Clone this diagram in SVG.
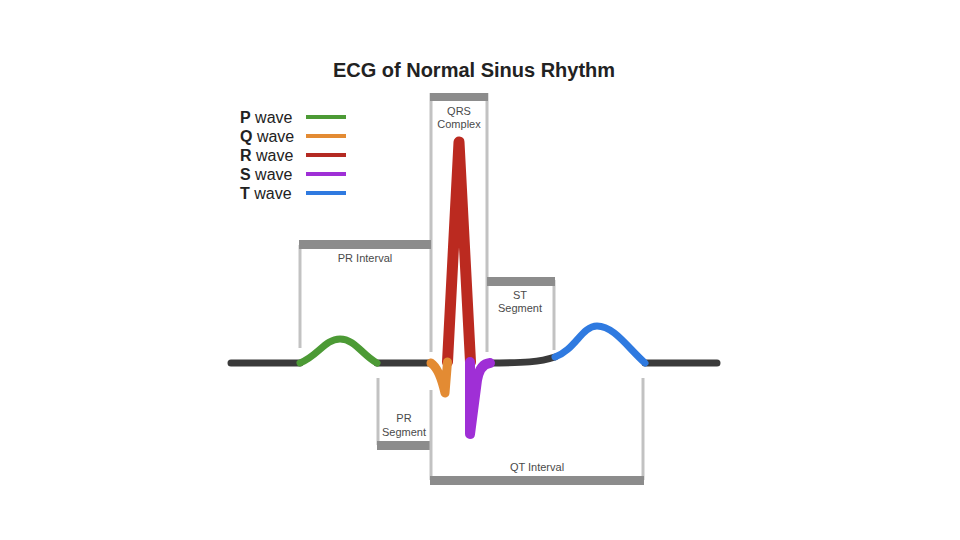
<svg xmlns="http://www.w3.org/2000/svg" width="960" height="540" viewBox="0 0 960 540">
<style>
.title{font-family:"Liberation Sans",Arial,sans-serif;font-size:20px;font-weight:bold;fill:#222}
.leg{font-family:"Liberation Sans",Arial,sans-serif;font-size:16px;fill:#222}
.leg tspan.b{font-weight:bold}
.lbl{font-family:"Liberation Sans",Arial,sans-serif;font-size:11px;fill:#4a4a4a;text-anchor:middle}
.vl{stroke:#c2c2c2;stroke-width:3;fill:none}
.bar{fill:#8c8c8c}
.w{fill:none;stroke-linecap:round;stroke-linejoin:round}
.base{stroke:#3a3a3a;stroke-width:7}
</style>
<rect width="960" height="540" fill="#fff"/>
<text class="title" x="474" y="77" text-anchor="middle">ECG of Normal Sinus Rhythm</text>
<g id="legend">
<text class="leg" x="240" y="123"><tspan class="b">P</tspan> wave</text>
<text class="leg" x="240" y="142"><tspan class="b">Q</tspan> wave</text>
<text class="leg" x="240" y="161"><tspan class="b">R</tspan> wave</text>
<text class="leg" x="240" y="180"><tspan class="b">S</tspan> wave</text>
<text class="leg" x="240" y="199"><tspan class="b">T</tspan> wave</text>
<g stroke-width="4">
<line x1="306" y1="117" x2="346" y2="117" stroke="#4c9a35"/>
<line x1="306" y1="136" x2="346" y2="136" stroke="#e38b33"/>
<line x1="306" y1="155" x2="346" y2="155" stroke="#b42a22"/>
<line x1="306" y1="174" x2="346" y2="174" stroke="#9f2fd6"/>
<line x1="306" y1="193" x2="346" y2="193" stroke="#2f7ae0"/>
</g>
</g>
<g id="qrs-complex">
<line class="vl" x1="431" y1="93" x2="431" y2="352"/>
<line class="vl" x1="487" y1="93" x2="487" y2="352"/>
<rect class="bar" x="430" y="93" width="58" height="8"/>
<text class="lbl" x="459" y="115">QRS</text>
<text class="lbl" x="459" y="128">Complex</text>
</g>
<g id="pr-interval">
<line class="vl" x1="300" y1="245" x2="300" y2="348"/>
<rect class="bar" x="299" y="240" width="132" height="9"/>
<text class="lbl" x="365" y="262">PR Interval</text>
</g>
<g id="st-segment">
<line class="vl" x1="554" y1="280" x2="554" y2="350"/>
<rect class="bar" x="487" y="277" width="68" height="9"/>
<text class="lbl" x="520" y="299">ST</text>
<text class="lbl" x="520" y="312">Segment</text>
</g>
<g id="pr-segment">
<line class="vl" x1="378" y1="378" x2="378" y2="445"/>
<rect class="bar" x="377" y="441" width="54" height="9"/>
<text class="lbl" x="404" y="422">PR</text>
<text class="lbl" x="404" y="436">Segment</text>
</g>
<g id="qt-interval">
<line class="vl" x1="431" y1="390" x2="431" y2="480"/>
<line class="vl" x1="643" y1="378" x2="643" y2="480"/>
<rect class="bar" x="430" y="476" width="214" height="9"/>
<text class="lbl" x="537" y="471">QT Interval</text>
</g>
<g id="waveform">
<path class="w base" d="M231,363 L300,363 M377,363 L431,363 M487,363 C525,363 540,362 555,357 M645,363 L717,363"/>
<path id="p-wave" class="w" stroke="#4c9a35" stroke-width="7" d="M300,363 C318,356 325,339 340,339 C355,339 362,355 377,363"/>
<path id="r-wave" class="w" stroke="#bb2a20" stroke-width="11" stroke-linecap="butt" d="M447.5,362 L459,142 L470.5,362"/>
<path id="q-wave" class="w" stroke="#e38b33" stroke-width="9" stroke-linecap="butt" d="M431,363 C437,367 442,380 445,393 L447.5,362"/>
<path id="s-wave" class="w" stroke="#9f2fd6" stroke-width="10" stroke-linecap="butt" d="M470,362 L470,434 L477,380 Q480,364 490,363"/>
<path id="t-wave" class="w" stroke="#2f7ae0" stroke-width="7" d="M555,357 C575,350 582,326 597,326 C614,326 628,348 645,363"/>
</g>
</svg>
